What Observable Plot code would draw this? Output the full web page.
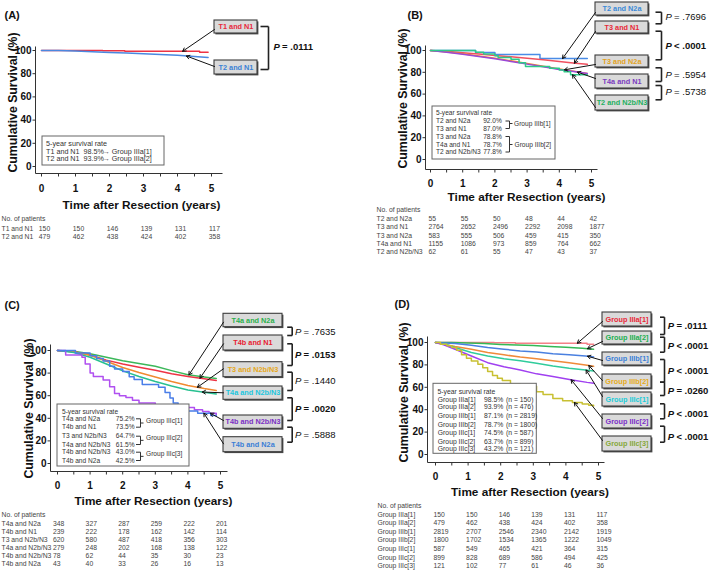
<!DOCTYPE html>
<html>
<head>
<meta charset="utf-8">
<script src="https://cdn.jsdelivr.net/npm/d3@7"></script>
<script src="https://cdn.jsdelivr.net/npm/@observablehq/plot@0.6"></script>
<style>
  html,body{margin:0;padding:0;background:#fff;}
  #fig{position:relative;width:709px;height:570px;overflow:hidden;background:#fff;}
  .panel{position:absolute;}
  .panel svg{display:block;overflow:visible;}
</style>
</head>
<body>
<div id="fig"></div>
<script>
// ================= DATA =================
const timeTicks = [0, 1, 2, 3, 4, 5];
const halfYearTicks = [0, 0.5, 1, 1.5, 2, 2.5, 3, 3.5, 4, 4.5, 5];
const survivalTicks = [0, 20, 40, 60, 80, 100];
const xTitle = "Time after Resection (years)";
const yTitle = "Cumulative Survival (%)";
const riskTitle = "No. of patients";
const rateTitle = "5-year survival rate";

// ----- (A) -----
const aNames = ["T1 and N1", "T2 and N1"];
const aRates = ["98.5%", "93.9%"];
const aGroups = ["Group IIIa[1]", "Group IIIa[2]"];
const aT1N1 = [[0,100],[1.8,99.7],[2.45,99.3],[4.65,98.5],[4.9,98.5]];
const aT2N1 = [[0,100],[0.5,100],[1,99.6],[1.5,99],[2,98.3],[2.5,97.8],[3,97.3],[3.5,96.5],[4,95.8],[4.5,94.8],[4.9,94]];
const aRisk = [[150,150,146,139,131,117],[479,462,438,424,402,358]];
const aPvalues = ["= .0111"];

// ----- (B) -----
const bNames = ["T2 and N2a", "T3 and N1", "T3 and N2a", "T4a and N1", "T2 and N2b/N3"];
const bRates = ["92.0%", "87.0%", "78.8%", "78.7%", "77.8%"];
const bGroups = ["Group IIIb[1]", "Group IIIb[2]"];
const bT2N2a = [[0,100],[1.4,98.2],[2.0,96.4],[3.4,92.6],[4.87,92.6]];
const bT3N1 = [[0,100],[0.5,99.2],[1,98],[1.5,96.8],[2,95.5],[2.5,94.3],[3,93],[3.5,91.5],[4,89.8],[4.5,88.2],[4.87,87.3]];
const bT3N2a = [[0,100],[0.5,98.6],[1,97],[1.5,95],[2,93],[2.5,90.5],[3,88],[3.5,85.5],[4,83],[4.5,80.8],[4.87,78.9]];
const bT4aN1 = [[0,100],[0.5,98.3],[1,96.5],[1.5,94.5],[2,92.5],[2.5,90],[3,87.5],[3.5,85],[4,82.5],[4.5,80.5],[4.87,78.8]];
const bT2N2b = [[0,100],[1.4,98.4],[1.65,96.8],[2.0,95.2],[2.1,93.5],[2.5,91.9],[2.75,88.7],[2.95,85.4],[3.7,83.8],[4.0,82.2],[4.15,80.6],[4.35,77.8],[4.87,77.8]];
const bRisk = [[55,55,50,48,44,42],[2764,2652,2496,2292,2098,1877],[583,555,506,459,415,350],[1155,1086,973,859,764,662],[62,61,55,47,43,37]];
const bPvalues = ["= .7696", "< .0001", "= .5954", "= .5738"];

// ----- (C) -----
const cNames = ["T4a and N2a", "T4b and N1", "T3 and N2b/N3", "T4a and N2b/N3", "T4b and N2b/N3", "T4b and N2a"];
const cRates = ["75.2%", "73.5%", "64.7%", "61.5%", "43.0%", "42.5%"];
const cGroups = ["Group IIIc[1]", "Group IIIc[2]", "Group IIIc[3]"];
const cT4aN2a = [[0,100],[0.5,99.4],[1,97.2],[1.5,94],[2,91],[2.5,88.5],[3,86],[3.5,82.2],[4,78.5],[4.5,76.5],[4.87,75.2]];
const cT4bN1 = [[0,100],[0.5,99],[1,96],[1.5,91.5],[2,88],[2.5,85.2],[3,82.5],[3.5,79.5],[4,77],[4.5,75],[4.87,73.5]];
const cT3N2b = [[0,100],[0.5,98.8],[1,95.8],[1.5,90.5],[2,85],[2.5,80.5],[3,76.5],[3.5,72.5],[4,69],[4.5,66.3],[4.87,64.7]];
const cT4aN2b = [[0,100],[0.5,98.2],[1,94],[1.5,88],[2,82],[2.5,77],[3,72.5],[3.5,68.5],[4,65],[4.5,63],[4.87,61.5]];
const cT4bN2b = [[0,100],[0.25,96],[0.75,94],[0.85,88],[1.0,80],[1.1,77],[1.4,74],[1.6,68],[1.75,62],[1.9,60],[2.1,58.5],[2.3,56],[2.5,53.5],[3.0,51],[3.5,50],[4.0,49.5],[4.2,47.5],[4.45,46],[4.65,44.5],[4.87,43]];
const cT4bN2a = [[0,100],[0.55,97.7],[1.0,95.3],[1.2,93],[1.4,90.7],[1.6,86],[1.75,83.7],[2.0,81.4],[2.2,76.7],[2.35,74.4],[2.6,70],[3.1,67.4],[3.3,62.8],[3.45,58],[3.55,53.5],[3.7,51],[3.9,46.5],[4.3,44.5],[4.7,42.5],[4.87,42.5]];
const cRisk = [[348,327,287,259,222,201],[239,222,178,162,142,114],[620,580,487,418,356,303],[279,248,202,168,138,122],[78,62,44,35,30,23],[43,40,33,26,16,13]];
const cPvalues = ["= .7635", "= .0153", "= .1440", "= .0020", "= .5888"];

// ----- (D) -----
const dNames = ["Group IIIa[1]", "Group IIIa[2]", "Group IIIb[1]", "Group IIIb[2]", "Group IIIc[1]", "Group IIIc[2]", "Group IIIc[3]"];
const dRates = ["98.5%", "93.9%", "87.1%", "78.7%", "74.5%", "63.7%", "43.2%"];
const dCounts = ["(n = 150)", "(n = 476)", "(n = 2819)", "(n = 1800)", "(n = 587)", "(n = 899)", "(n = 121)"];
const dIIIa1 = [[0,100],[1.8,99.7],[2.45,99.3],[4.65,98.5],[4.85,98.5]];
const dIIIa2 = [[0,100],[0.5,100],[1,99.6],[1.5,99],[2,98.3],[2.5,97.8],[3,97.3],[3.5,96.5],[4,95.8],[4.5,94.8],[4.85,94]];
const dIIIb1 = [[0,100],[0.6,99],[1.1,97.5],[1.6,95.5],[2.1,94],[2.6,92.5],[3.1,91.5],[3.6,90],[4.1,89],[4.6,88],[4.85,87.1]];
const dIIIb2 = [[0,100],[0.6,96.5],[1.1,94],[1.6,91],[2.1,89],[2.6,87],[3.1,85.5],[3.6,83.7],[4.1,82],[4.6,80],[4.85,78.7]];
const dIIIc1 = [[0,100],[0.3,98.5],[0.6,95.5],[1.1,91],[1.6,88],[2.1,85.5],[2.6,83.7],[3.1,81.5],[3.6,79],[4.1,77],[4.6,75.5],[4.85,74.5]];
const dIIIc2 = [[0,100],[0.25,98],[0.6,94],[1.1,88],[1.6,82],[2.1,78.3],[2.6,75.4],[3.1,72],[3.6,69.7],[4.15,66.8],[4.65,64.4],[4.85,63.7]];
const dIIIc3 = [[0,100],[0.15,98.5],[0.35,97],[0.5,95.5],[0.65,93],[0.8,89],[0.95,86],[1.1,83.5],[1.3,80.5],[1.45,77.5],[1.6,74],[1.75,70.5],[1.9,68],[2.05,66],[2.3,63],[2.6,61],[3.1,56],[3.3,53.5],[3.6,50],[3.9,48],[4.2,46.5],[4.5,45],[4.7,44],[4.85,43.2]];
const dRisk = [[150,150,146,139,131,117],[479,462,438,424,402,358],[2819,2707,2546,2340,2142,1919],[1800,1702,1534,1365,1222,1049],[587,549,465,421,364,315],[899,828,689,586,494,425],[121,102,77,61,46,36]];
const dPvalues = ["= .0111", "< .0001", "< .0001", "= .0260", "< .0001", "< .0001"];

// ================= RENDERING =================
const FONT = '"Liberation Sans", Arial, Helvetica, sans-serif';
const TABLE_FS = 6.8;

function valueAt(pts, t, step) {
  let prev = pts[0];
  for (let i = 1; i < pts.length; i++) {
    const p = pts[i];
    if (p[0] > t) {
      if (step) return prev[1];
      const f = (t - prev[0]) / (p[0] - prev[0]);
      return prev[1] + f * (p[1] - prev[1]);
    }
    prev = p;
  }
  return prev[1];
}

function panel(cfg) {
  const g = cfg.geom;
  const X = px => (px - g.x0) / (g.x5 - g.x0) * 5;
  const Y = py => (g.y0 - py) / (g.y0 - g.y100) * 100;
  const seg = (x1, y1, x2, y2) => ({x1: X(x1), y1: Y(y1), x2: X(x2), y2: Y(y2)});
  const pt = (px, py, text) => ({x: X(px), y: Y(py), text});
  const links = (arr, o = {}) => Plot.link(arr, {x1: "x1", y1: "y1", x2: "x2", y2: "y2", stroke: "#222", strokeWidth: 1, ...o});
  const texts = (arr, o = {}) => Plot.text(arr, {x: "x", y: "y", text: "text", fill: "#222", fontSize: 10, ...o});
  const rects = (arr, o = {}) => Plot.rect(arr, {x1: "x1", y1: "y1", x2: "x2", y2: "y2", ...o});
  const marks = [];

  // survival curves
  cfg.series.forEach(s => marks.push(Plot.line(s.points, {
    x: d => d[0], y: d => d[1], stroke: s.color, strokeWidth: 1.5,
    curve: s.step ? "step-after" : "linear"
  })));

  // survival-rate legend box
  const L = cfg.legend(seg, pt);
  marks.push(rects([seg(...L.box)], {fill: "#fff", stroke: "#666", strokeWidth: 1}));
  marks.push(texts(L.start, {textAnchor: "start", fontSize: L.fs, fill: "#333"}));
  if (L.end) marks.push(texts(L.end, {textAnchor: "end", fontSize: L.fs, fill: "#333"}));
  if (L.brackets) marks.push(links(L.brackets, {stroke: "#333", strokeWidth: 1}));

  // axes
  marks.push(links([seg(g.axisX1, g.axisY, g.axisX2, g.axisY), seg(g.yAxisX, g.yAxisTop, g.yAxisX, g.axisY)], {stroke: "#333", strokeWidth: 1}));
  marks.push(Plot.link(halfYearTicks, {x1: d => d, x2: d => d, y1: Y(g.axisY), y2: Y(g.axisY + 3), stroke: "#333", strokeWidth: 1}));
  marks.push(Plot.link(survivalTicks, {x1: X(g.yAxisX - 3), x2: X(g.yAxisX), y1: d => d, y2: d => d, stroke: "#333", strokeWidth: 1}));
  marks.push(Plot.text(timeTicks, {x: d => d, y: Y(g.tickLabelY), text: d => String(d), fontSize: 10, fontWeight: "bold", fill: "#111"}));
  marks.push(Plot.text(survivalTicks, {x: X(g.yAxisX - 4), y: d => d, text: d => String(d), textAnchor: "end", fontSize: 10, fontWeight: "bold", fill: "#111"}));
  marks.push(texts([pt(g.titleX, g.titleY, xTitle)], {fontSize: 11.8, fontWeight: "bold", fill: "#111"}));
  marks.push(texts([pt(g.ytX, g.ytY, yTitle)], {fontSize: 12.3, fontWeight: "bold", fill: "#111", rotate: -90}));
  marks.push(texts([pt(g.tagX, g.tagY, cfg.tag)], {fontSize: 11, fontWeight: "bold", fill: "#111", textAnchor: "start"}));

  // label boxes with arrows
  const bx = cfg.boxX;
  const boxes = cfg.labels.map((lb, i) => ({...seg(bx[0], lb.y1, bx[1], lb.y2), color: lb.color}));
  marks.push(rects(boxes, {fill: "#4a4a4a", dx: 1.4, dy: 1.4}));
  marks.push(rects(boxes, {fill: "#dadada", stroke: "#3c3c3c", strokeWidth: 1.1}));
  marks.push(Plot.text(cfg.labels.map((lb, i) => ({...pt((bx[0] + bx[1]) / 2, (lb.y1 + lb.y2) / 2, cfg.series[i].name), color: lb.color})),
    {x: "x", y: "y", text: "text", fill: "color", fontSize: 7.3, fontWeight: "bold"}));
  marks.push(Plot.arrow(cfg.labels.map((lb, i) => {
    const s = cfg.series[i];
    return {x1: X(bx[0]), y1: Y(lb.fromY), x2: lb.at, y2: valueAt(s.points, lb.at, s.step)};
  }), {x1: "x1", y1: "y1", x2: "x2", y2: "y2", stroke: "#111", strokeWidth: 1, headLength: 5.5}));

  // P-value brackets
  const pb = cfg.pBracket;
  const br = [];
  cfg.pvals.forEach(p => {
    br.push(seg(pb[0], p.y1, pb[1], p.y1), seg(pb[1], p.y1, pb[1], p.y2), seg(pb[0], p.y2, pb[1], p.y2));
  });
  marks.push(links(br, {stroke: "#222", strokeWidth: 1.6}));
  cfg.pvals.forEach((p, i) => {
    const w = p.bold ? "bold" : "normal";
    marks.push(texts([pt(cfg.pTextX, p.ty, "P")], {textAnchor: "start", fontSize: 9.5, fontWeight: w, fontStyle: "italic", fill: "#111"}));
    marks.push(texts([pt(cfg.pTextX + 8.6, p.ty, cfg.pTexts[i])], {textAnchor: "start", fontSize: 9.5, fontWeight: w, fill: "#111"}));
  });

  // number at risk table
  const T = cfg.table;
  marks.push(texts([pt(T.titleX, T.titleY, riskTitle)], {textAnchor: "start", fontSize: TABLE_FS, fill: "#444"}));
  marks.push(texts(cfg.series.map((s, i) => pt(T.labelX, T.rowY[i], s.name)), {textAnchor: "start", fontSize: TABLE_FS, fill: "#444"}));
  const vals = [];
  cfg.risk.forEach((row, i) => row.forEach((v, j) => vals.push({x: timeTicks[j], y: Y(T.rowY[i]), text: String(v)})));
  marks.push(texts(vals, {textAnchor: T.anchor, dx: T.dx, fontSize: TABLE_FS, fill: "#444"}));

  const svg = Plot.plot({
    width: cfg.width, height: cfg.height, margin: 0,
    x: {domain: [0, 5], range: [g.x0, g.x5], axis: null},
    y: {domain: [0, 100], range: [g.y0, g.y100], axis: null},
    style: {fontFamily: FONT, background: "transparent", overflow: "visible"},
    marks
  });
  const div = document.createElement("div");
  div.className = "panel";
  div.style.left = cfg.left + "px";
  div.style.top = cfg.top + "px";
  div.appendChild(svg);
  document.getElementById("fig").appendChild(div);
}

// ----- panel A -----
panel({
  tag: "(A)", left: 0, top: 0, width: 354, height: 280,
  geom: {x0: 41, x5: 211, y0: 166, y100: 50, axisY: 173, axisX1: 35, axisX2: 222, yAxisX: 35, yAxisTop: 46,
         tickLabelY: 188, titleX: 141, titleY: 205, ytX: 13, ytY: 102, tagX: 4, tagY: 15},
  series: [
    {name: aNames[0], points: aT1N1, color: "#ee3344", step: true},
    {name: aNames[1], points: aT2N1, color: "#4a88e0", step: false}
  ],
  boxX: [214, 257],
  labels: [
    {y1: 20, y2: 33, fromY: 29, at: 4.15, color: "#e8283c"},
    {y1: 60, y2: 74, fromY: 66, at: 4.26, color: "#3a82d6"}
  ],
  legend: (seg, pt) => {
    const rows = [150.8, 158.3];
    return {
      fs: 7.2, box: [42, 136, 164, 165],
      start: [pt(45.5, 143.3, rateTitle),
        ...aNames.map((n, i) => pt(45.5, rows[i], n)),
        ...aRates.map((r, i) => pt(83, rows[i], r)),
        ...aGroups.map((gr, i) => pt(102, rows[i], "→ " + gr))]
    };
  },
  pBracket: [260, 268], pTextX: 273,
  pvals: [{y1: 26, y2: 69, ty: 46, bold: true}],
  pTexts: aPvalues,
  risk: aRisk,
  table: {titleX: 1, titleY: 218, labelX: 1, rowY: [228, 236], anchor: "middle", dx: 3}
});

// ----- panel B -----
panel({
  tag: "(B)", left: 354, top: 0, width: 355, height: 280,
  geom: {x0: 76, x5: 237, y0: 159, y100: 50, axisY: 169, axisX1: 71, axisX2: 243, yAxisX: 71, yAxisTop: 45,
         tickLabelY: 183, titleX: 172, titleY: 197, ytX: 49, ytY: 98, tagX: 53, tagY: 15},
  series: [
    {name: bNames[0], points: bT2N2a, color: "#4a8ce6", step: true},
    {name: bNames[1], points: bT3N1, color: "#f0505f", step: false},
    {name: bNames[2], points: bT3N2a, color: "#ee8a32", step: false},
    {name: bNames[3], points: bT4aN1, color: "#9a48d8", step: false},
    {name: bNames[4], points: bT2N2b, color: "#2ec98a", step: true}
  ],
  boxX: [241, 294],
  labels: [
    {y1: 2, y2: 15, fromY: 12, at: 4.1, color: "#3a8ad8"},
    {y1: 21, y2: 33, fromY: 31, at: 4.47, color: "#e82838"},
    {y1: 55, y2: 67, fromY: 64, at: 4.16, color: "#e2a21e"},
    {y1: 74, y2: 88, fromY: 78, at: 4.56, color: "#7a3ac0"},
    {y1: 95, y2: 110, fromY: 107, at: 4.41, color: "#1fb060"}
  ],
  legend: (seg, pt) => {
    const rows = [120.5, 128, 136, 144, 151.5];
    const vx = 155, sx = 151, rx = 158;
    return {
      fs: 6.6, box: [78, 106, 201, 159],
      start: [pt(81.5, 112.5, rateTitle),
        ...bNames.map((n, i) => pt(81.5, rows[i], n)),
        ...bRates.map((r, i) => pt(128.7, rows[i], r)),
        pt(159.5, 123, bGroups[0]), pt(160, 144, bGroups[1])],
      brackets: [
        seg(sx, rows[0], vx, rows[0]), seg(vx, rows[0], vx, rows[1]), seg(sx, rows[1], vx, rows[1]), seg(vx, 123, rx, 123),
        seg(sx, rows[2], vx, rows[2]), seg(vx, rows[2], vx, rows[4]), seg(sx, rows[4], vx, rows[4]), seg(vx, rows[3], rx, rows[3])
      ]
    };
  },
  pBracket: [301, 307], pTextX: 311,
  pvals: [
    {y1: 11.7, y2: 23.3, ty: 16.7, bold: false},
    {y1: 30.7, y2: 59.3, ty: 45.7, bold: true},
    {y1: 67.3, y2: 81, ty: 74, bold: false},
    {y1: 85, y2: 99.3, ty: 91.7, bold: false}
  ],
  pTexts: bPvalues,
  risk: bRisk,
  table: {titleX: 22, titleY: 209.3, labelX: 22, rowY: [218.3, 226.7, 235, 243.3, 251.7], anchor: "start", dx: -2}
});

// ----- panel C -----
panel({
  tag: "(C)", left: 0, top: 280, width: 354, height: 290,
  geom: {x0: 57, x5: 220, y0: 183, y100: 70, axisY: 191, axisX1: 50, axisX2: 227, yAxisX: 50, yAxisTop: 64,
         tickLabelY: 205, titleX: 153, titleY: 221, ytX: 29, ytY: 128, tagX: 4, tagY: 25},
  series: [
    {name: cNames[0], points: cT4aN2a, color: "#3cb85a", step: false},
    {name: cNames[1], points: cT4bN1, color: "#ee3344", step: false},
    {name: cNames[2], points: cT3N2b, color: "#f08a30", step: false},
    {name: cNames[3], points: cT4aN2b, color: "#28c090", step: false},
    {name: cNames[4], points: cT4bN2b, color: "#b050f0", step: true},
    {name: cNames[5], points: cT4bN2a, color: "#4a7ee8", step: true}
  ],
  boxX: [223, 282],
  labels: [
    {y1: 33.3, y2: 46.7, fromY: 41.7, at: 4.03, color: "#2ab04c"},
    {y1: 55, y2: 70, fromY: 63.3, at: 4.37, color: "#e82030"},
    {y1: 81.7, y2: 96.7, fromY: 88.3, at: 4.29, color: "#e6a820"},
    {y1: 106, y2: 119.3, fromY: 112.3, at: 4.44, color: "#1cc6de"},
    {y1: 135, y2: 148.3, fromY: 140, at: 4.69, color: "#7a30c4"},
    {y1: 156.7, y2: 171.7, fromY: 163.3, at: 4.49, color: "#3a7ed6"}
  ],
  legend: (seg, pt) => {
    const rows = [138.3, 146.7, 155.7, 164, 171.7, 180];
    const vx = 140, sx = 135.5, rx = 143;
    const br = [];
    const gt = [];
    [0, 2, 4].forEach((r, k) => {
      const m = (rows[r] + rows[r + 1]) / 2;
      br.push(seg(sx, rows[r], vx, rows[r]), seg(vx, rows[r], vx, rows[r + 1]), seg(sx, rows[r + 1], vx, rows[r + 1]), seg(vx, m, rx, m));
      gt.push(pt(145.5, m - 2, cGroups[k]));
    });
    return {
      fs: 6.6, box: [57, 124, 189, 186],
      start: [pt(61.5, 131, rateTitle), ...cNames.map((n, i) => pt(61.5, rows[i], n)), ...gt],
      end: cRates.map((r, i) => pt(134, rows[i], r)),
      brackets: br
    };
  },
  pBracket: [286.7, 291.7], pTextX: 294.5,
  pvals: [
    {y1: 46.7, y2: 55, ty: 51.7, bold: false},
    {y1: 63.3, y2: 85, ty: 74, bold: true},
    {y1: 91.7, y2: 110, ty: 100, bold: false},
    {y1: 117.3, y2: 140, ty: 128.3, bold: true},
    {y1: 146.7, y2: 161.7, ty: 154, bold: false}
  ],
  pTexts: cPvalues,
  risk: cRisk,
  table: {titleX: 1, titleY: 234, labelX: 1, rowY: [243, 251, 259, 267, 275, 283], anchor: "start", dx: -4.5}
});

// ----- panel D -----
panel({
  tag: "(D)", left: 354, top: 280, width: 355, height: 290,
  geom: {x0: 81, x5: 244, y0: 174, y100: 62, axisY: 182, axisX1: 73, axisX2: 250, yAxisX: 73, yAxisTop: 56,
         tickLabelY: 196, titleX: 175.5, titleY: 212, ytX: 50, ytY: 112, tagX: 40, tagY: 24},
  series: [
    {name: dNames[0], points: dIIIa1, color: "#f48088", step: true},
    {name: dNames[1], points: dIIIa2, color: "#35b855", step: false},
    {name: dNames[2], points: dIIIb1, color: "#4a80e0", step: false},
    {name: dNames[3], points: dIIIb2, color: "#f08a3a", step: false},
    {name: dNames[4], points: dIIIc1, color: "#30cc9c", step: false},
    {name: dNames[5], points: dIIIc2, color: "#a040f0", step: false},
    {name: dNames[6], points: dIIIc3, color: "#c8c032", step: true}
  ],
  boxX: [248, 297],
  labels: [
    {y1: 32, y2: 46, fromY: 41, at: 4.35, color: "#e82838"},
    {y1: 51, y2: 64, fromY: 61, at: 4.66, color: "#20b050"},
    {y1: 72, y2: 85, fromY: 80, at: 4.66, color: "#3a80d8"},
    {y1: 94, y2: 108, fromY: 100, at: 4.7, color: "#e6aa20"},
    {y1: 112, y2: 126, fromY: 116, at: 4.62, color: "#1cccd8"},
    {y1: 134, y2: 148, fromY: 138, at: 4.16, color: "#7a30c8"},
    {y1: 156, y2: 171, fromY: 160, at: 4.26, color: "#86a83a"}
  ],
  legend: (seg, pt) => {
    const rows = [119, 126.7, 135.7, 144, 152.3, 161, 168.3];
    return {
      fs: 6.8, box: [79, 103.3, 182.3, 173.3],
      start: [pt(83, 111.7, rateTitle),
        ...dNames.map((n, i) => pt(83.3, rows[i], n)),
        ...dRates.map((r, i) => pt(129.5, rows[i], r)),
        ...dCounts.map((c, i) => pt(151.5, rows[i], c))]
    };
  },
  pBracket: [305.5, 310], pTextX: 313.3,
  pvals: [
    {y1: 36.7, y2: 54, ty: 45.7, bold: true},
    {y1: 56.7, y2: 71.7, ty: 65, bold: true},
    {y1: 79, y2: 101.7, ty: 90.7, bold: true},
    {y1: 101.7, y2: 115, ty: 110, bold: true},
    {y1: 123.3, y2: 138.3, ty: 133.3, bold: true},
    {y1: 145.7, y2: 161.7, ty: 156.7, bold: true}
  ],
  pTexts: dPvalues,
  risk: dRisk,
  table: {titleX: 23, titleY: 225, labelX: 23, rowY: [234, 242, 251, 259, 268, 277, 285], anchor: "start", dx: -2}
});
</script>
</body>
</html>
